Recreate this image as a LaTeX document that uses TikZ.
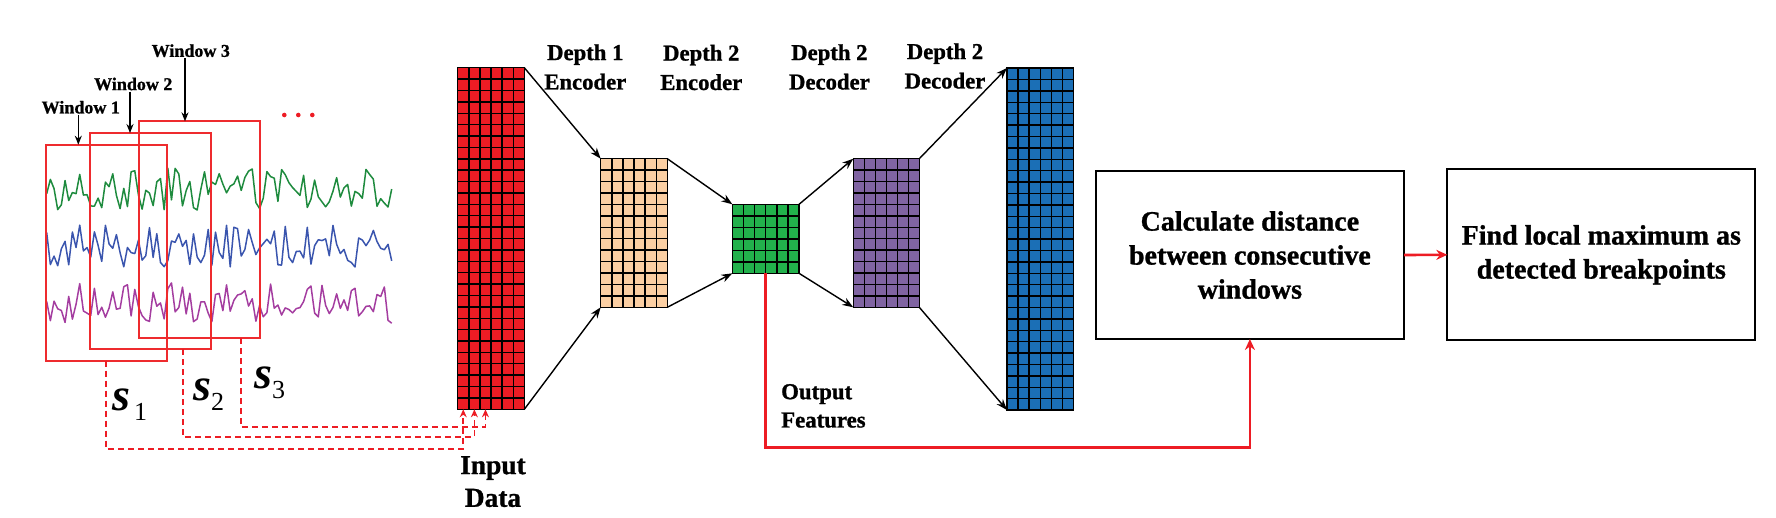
\documentclass[tikz,border=0pt]{standalone}
\usepackage{fontspec}
\setmainfont{Liberation Serif}[BoldFeatures={FakeBold=1}]
\usetikzlibrary{arrows.meta,calc}
\definecolor{inred}{HTML}{ED1C24}
\definecolor{peach}{HTML}{FBCFA3}
\definecolor{codegreen}{HTML}{22B14C}
\definecolor{decpurple}{HTML}{8064A2}
\definecolor{outblue}{HTML}{1B6FB6}
\definecolor{sigG}{HTML}{1E8B3E}
\definecolor{sigB}{HTML}{3A55AE}
\definecolor{sigP}{HTML}{A43DA0}
\definecolor{winred}{HTML}{EE2B2E}
\tikzset{
  gridbox/.style={draw=black, line width=1.5pt, inner sep=0pt, outer sep=0pt},
  gridline/.style={draw=black, line width=1.4pt},
  flowarrow/.style={draw=black, line width=1.4pt, -{Stealth[length=11pt,width=8pt]}},
  winbox/.style={draw=winred, line width=1.9pt, inner sep=0pt, outer sep=0pt},
  winlabel/.style={font=\fontsize{18}{20}\selectfont\bfseries, inner sep=1pt},
  winarrow/.style={draw=black, line width=1.5pt, -{Stealth[length=9pt,width=7pt]}},
  layerlabel/.style={font=\fontsize{22.7}{29.4}\selectfont\bfseries, align=center, inner sep=0pt},
  procbox/.style={draw=black, line width=1.9pt, inner sep=0pt, outer sep=0pt, align=center, font=\fontsize{28}{34}\selectfont\bfseries},
  redarrow/.style={draw=inred, line width=2.6pt, -{Stealth[length=11pt,width=10pt]}},
  dashred/.style={draw=inred, line width=1.7pt, dash pattern=on 6pt off 4pt, -{Stealth[length=8pt,width=7pt]}},
  signal/.style={line width=1.5pt, line join=round},
  slabel/.style={anchor=base west, inner sep=0pt},
}
\newcommand\cellgrid[5]{%
  \foreach \i in {1,...,#3}{\draw[gridline] ($(#1.south west)!\i/#2!(#1.south east)$) -- ($(#1.north west)!\i/#2!(#1.north east)$);}
  \foreach \j in {1,...,#5}{\draw[gridline] ($(#1.south west)!\j/#4!(#1.north west)$) -- ($(#1.south east)!\j/#4!(#1.north east)$);}
}
\begin{document}
\begin{tikzpicture}[x=1pt,y=-1pt]
\useasboundingbox (0,0) rectangle (1776,517);
% signals
\pgfmathsetseed{7}
\draw[signal, sigG] plot[domain=46.7:391.7, samples=95] (\x, {189+21*rand});
\draw[signal, sigB] plot[domain=46.7:391.7, samples=95] (\x, {246+21*rand});
\draw[signal, sigP] plot[domain=46.7:391.7, samples=95] (\x, {303+21*rand});
% windows
\node[winbox, minimum width=121pt, minimum height=216pt] (w1) at (106.2,252.7) {};
\node[winbox, minimum width=121pt, minimum height=216.3pt] (w2) at (150.2,241.2) {};
\node[winbox, minimum width=120.7pt, minimum height=216.7pt] (w3) at (199.7,229.7) {};
\node[winlabel] (wl1) at (80.8,107.3) {Window 1};
\node[winlabel] (wl2) at (133.3,84) {Window 2};
\node[winlabel] (wl3) at (190.8,50.7) {Window 3};
\draw[winarrow] ([xshift=-2.5pt]wl1.south) -- ([xshift=-2.5pt]wl1.south |- w1.north);
\draw[winarrow] ([xshift=-3.3pt]wl2.south) -- ([xshift=-3.3pt]wl2.south |- w2.north);
\draw[winarrow] ([xshift=-5.8pt]wl3.south) -- ([xshift=-5.8pt]wl3.south |- w3.north);
\fill[inred] (284.3,115) circle (2.3pt) (298.3,115) circle (2.3pt) (312.3,115) circle (2.3pt);
% s labels
\node[slabel] (s1) at (112,410) {{\fontsize{46}{46}\selectfont\bfseries\itshape s}\kern4pt\raisebox{-10pt}{\fontsize{26}{26}\selectfont 1}};
\node[slabel] (s2) at (193,400) {{\fontsize{46}{46}\selectfont\bfseries\itshape s}\kern0pt\raisebox{-10pt}{\fontsize{26}{26}\selectfont 2}};
\node[slabel] (s3) at (254,388.8) {{\fontsize{46}{46}\selectfont\bfseries\itshape s}\kern0pt\raisebox{-10pt}{\fontsize{26}{26}\selectfont 3}};
% grids
\node[gridbox, fill=inred, minimum width=66.6pt, minimum height=341.6pt] (in) at (491,238.5) {};
\cellgrid{in}{6}{5}{30}{29}
\node[gridbox, fill=peach, minimum width=66.6pt, minimum height=148.6pt] (enc1) at (634,233) {};
\cellgrid{enc1}{6}{5}{13}{12}
\node[gridbox, fill=codegreen, minimum width=66.7pt, minimum height=69pt] (code) at (765.7,238.8) {};
\cellgrid{code}{6}{5}{6}{5}
\node[gridbox, fill=decpurple, minimum width=66pt, minimum height=148.6pt] (dec1) at (886.3,233) {};
\cellgrid{dec1}{6}{5}{13}{12}
\node[gridbox, fill=outblue, minimum width=66.7pt, minimum height=342pt] (out) at (1040.3,239) {};
\cellgrid{out}{6}{5}{30}{29}
% flow arrows
\draw[flowarrow] (in.north east) -- (enc1.north west);
\draw[flowarrow] (in.south east) -- (enc1.south west);
\draw[flowarrow] (enc1.north east) -- (code.north west);
\draw[flowarrow] (enc1.south east) -- (code.south west);
\draw[flowarrow] (code.north east) -- (dec1.north west);
\draw[flowarrow] (code.south east) -- (dec1.south west);
\draw[flowarrow] (dec1.north east) -- (out.north west);
\draw[flowarrow] (dec1.south east) -- (out.south west);
% layer labels
\node[layerlabel] (l1) at (585.3,67) {Depth 1\\Encoder};
\node[layerlabel] (l2) at (701.3,67.5) {Depth 2\\Encoder};
\node[layerlabel] (l3) at (829.4,67) {Depth 2\\Decoder};
\node[layerlabel] (l4) at (945,66) {Depth 2\\Decoder};
\node[font=\fontsize{27.4}{32.7}\selectfont\bfseries, align=center, inner sep=0pt] (inlab) at (493,481.6) {Input\\Data};
\node[font=\fontsize{22.8}{28.3}\selectfont\bfseries, align=left, anchor=west, inner sep=0pt] (oflab) at (781,405.9) {Output\\Features};
% dashed connections
\coordinate (ia) at ($(in.south west)!1/12!(in.south east)$);
\coordinate (ib) at ($(in.south west)!3/12!(in.south east)$);
\coordinate (ic) at ($(in.south west)!5/12!(in.south east)$);
\coordinate (w2b) at ($(w2.south west)!0.771!(w2.south east)$);
\coordinate (w3b) at ($(w3.south west)!0.843!(w3.south east)$);
\draw[dashred] (w1.south) -- ++(0,88.1) -| (ia);
\draw[dashred] (w2b) -- ++(0,87.7) -| (ib);
\draw[dashred] (w3b) -- ++(0,88.7) -| (ic);
% process boxes
\node[procbox, minimum width=308.3pt, minimum height=168pt] (box1) at (1249.9,255) {Calculate distance\\between consecutive\\windows};
\node[procbox, minimum width=308pt, minimum height=171pt] (box2) at (1601.3,254.8) {Find local maximum as\\detected breakpoints};
\draw[redarrow] (box1.east) -- (box2.west);
\draw[redarrow] (code.south) -- ++(0,174) -| (box1.south);
\end{tikzpicture}
\end{document}
